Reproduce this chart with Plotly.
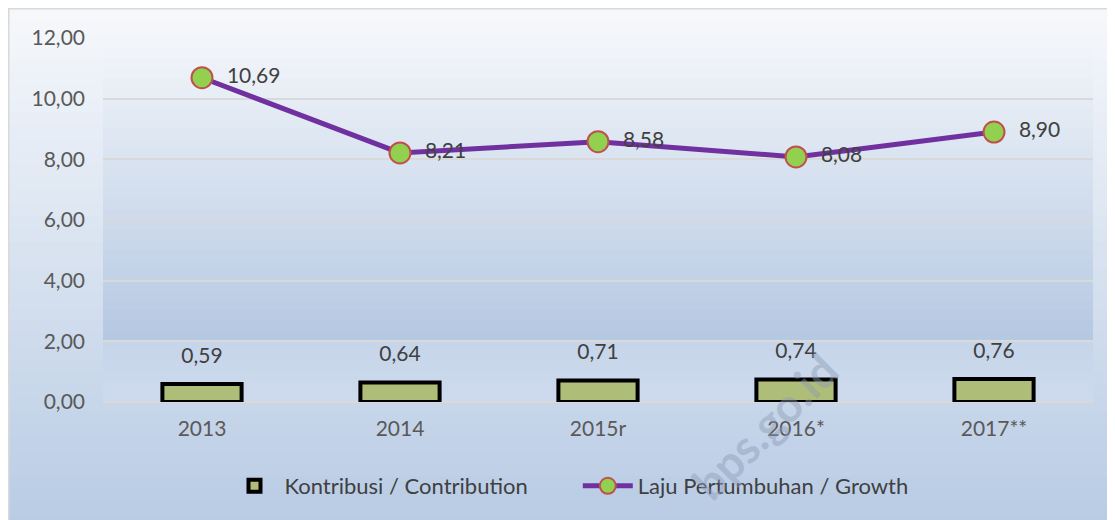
"""Kontribusi dan laju pertumbuhan 2013-2017."""

import plotly.graph_objects as go

YEARS = ["2013", "2014", "2015r", "2016*", "2017**"]
CONTRIBUTION = [0.59, 0.64, 0.71, 0.74, 0.76]
GROWTH = [10.69, 8.21, 8.58, 8.08, 8.90]
Y_TICKS = [0, 2, 4, 6, 8, 10, 12]

W, H = 1115, 520
ML, MR, MT, MB = 95, 30, 30, 126
PW, PH = W - ML - MR, H - MT - MB
FONT = "Lato"
TXT = "#404040"
PAD = "\u00a0\u00a0"


def px_x(p):
    return (p - ML) / PW


def px_y(p):
    return (H - MB - p) / PH


def mix(c1, c2, t):
    return "rgb(%d,%d,%d)" % tuple(round(a + (b - a) * t) for a, b in zip(c1, c2))


def gradient(x0, x1, y0, y1, top, bottom, steps=30):
    out = []
    for i in range(steps):
        a = y0 + (y1 - y0) * i / steps
        b = y0 + (y1 - y0) * (i + 1) / steps + 0.5
        out.append(dict(
            type="rect", xref="paper", yref="paper", layer="below",
            x0=px_x(x0), x1=px_x(x1), y0=px_y(a), y1=px_y(min(b, y1)),
            fillcolor=mix(top, bottom, (i + 0.5) / steps), line_width=0,
        ))
    return out


# chart area background, then plot area background
shapes = gradient(0, W, 0, H, (246, 248, 251), (184, 203, 228), 40)
shapes += gradient(ML, ML + PW, MT, 332, (243, 246, 250), (181, 200, 226))
shapes += gradient(ML, ML + PW, 332, MT + PH, (197, 212, 233), (206, 219, 238), 6)
shapes.append(dict(
    type="rect", xref="paper", yref="paper", layer="below",
    x0=px_x(0.5), x1=px_x(W + 2), y0=px_y(0.5), y1=px_y(H + 2),
    line=dict(color="#d9d9d9", width=2), fillcolor="rgba(0,0,0,0)",
))

fig = go.Figure()
fig.add_trace(go.Bar(
    x=YEARS, y=CONTRIBUTION, name="Kontribusi / Contribution" + "\u00a0" * 8,
    width=0.4,
    marker=dict(color="#aebd78", line=dict(color="black", width=4)),
    hovertemplate="%{x}: %{y:.2f}<extra></extra>",
))
# value labels above the bars
fig.add_trace(go.Scatter(
    x=YEARS, y=CONTRIBUTION, mode="markers+text", showlegend=False,
    marker=dict(size=24, color="rgba(0,0,0,0)"),
    text=[f"{v:.2f}".replace(".", ",") for v in CONTRIBUTION],
    textposition="top center", textfont=dict(size=21, color=TXT, family=FONT),
    hoverinfo="skip", cliponaxis=False,
))
fig.add_trace(go.Scatter(
    x=YEARS, y=GROWTH, name="Laju Pertumbuhan / Growth",
    mode="lines+markers+text",
    line=dict(color="#7030a0", width=5),
    marker=dict(size=21, color="#92d050", line=dict(color="#c0504d", width=2)),
    text=[PAD + f"{v:.2f}".replace(".", ",") for v in GROWTH],
    textposition="middle right", textfont=dict(size=21, color=TXT, family=FONT),
    cliponaxis=False,
))

fig.update_layout(
    width=W, height=H,
    margin=dict(l=ML, r=MR, t=MT, b=MB, autoexpand=False),
    paper_bgcolor="white", plot_bgcolor="rgba(0,0,0,0)",
    separators=",.",
    font=dict(family=FONT, size=21, color=TXT),
    shapes=shapes,
    showlegend=True,
    legend=dict(
        orientation="h", x=px_x(561), xanchor="center", y=px_y(478), yanchor="middle",
        font=dict(size=22, color=TXT), bgcolor="rgba(0,0,0,0)",
        traceorder="normal", itemwidth=50,
    ),
    annotations=[dict(
        text="<b>bps.go.id</b>", xref="paper", yref="paper",
        x=px_x(756), y=px_y(418), xanchor="center", yanchor="middle",
        showarrow=False, textangle=-45,
        font=dict(size=46, color="rgba(140,155,180,0.45)", family=FONT),
    )],
)
fig.update_xaxes(
    showgrid=False, showline=False, ticks="", ticklabelstandoff=12,
    tickfont=dict(size=21, color="#595959"),
)
fig.update_yaxes(
    range=[0, 12], tickvals=Y_TICKS, tickformat=".2f",
    showgrid=True, gridcolor="#d9d9d9", gridwidth=2,
    zeroline=True, zerolinecolor="#d9d9d9", zerolinewidth=2,
    showline=False, ticks="", ticklabelstandoff=17,
    tickfont=dict(size=21, color="#595959"),
)

fig.write_html("out.html")
